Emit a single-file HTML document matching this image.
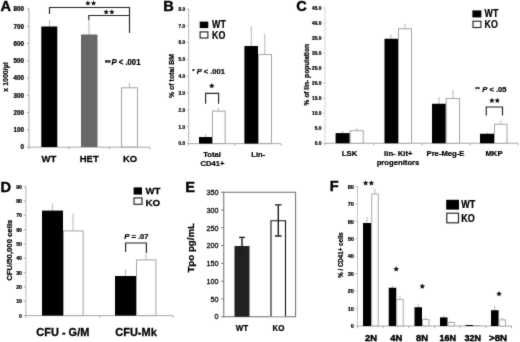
<!DOCTYPE html>
<html><head><meta charset="utf-8"><title>Figure</title>
<style>
html,body{margin:0;padding:0;background:#fff;}
body{width:520px;height:342px;overflow:hidden;font-family:"Liberation Sans",sans-serif;}
svg{display:block;}
svg text{font-family:"Liberation Sans",sans-serif;}
svg text{stroke-linejoin:round;}
</style></head><body>
<svg width="520" height="342" viewBox="0 0 520 342">
<defs><filter id="soft" x="0" y="0" width="100%" height="100%" filterUnits="userSpaceOnUse" color-interpolation-filters="sRGB"><feConvolveMatrix order="3" kernelMatrix="0.018 0.075 0.018 0.075 0.628 0.075 0.018 0.075 0.018" divisor="1" edgeMode="duplicate" preserveAlpha="true"/></filter></defs>
<g filter="url(#soft)">
<rect x="-5" y="-5" width="530" height="352" fill="#fff"/>
<text transform="translate(0.6 10.9)" font-size="14.6" font-weight="bold" text-anchor="start" fill="#000" stroke="#000" stroke-width="0.394">A</text>
<line x1="29" y1="8.5" x2="29" y2="147" stroke="#a8a8a8" stroke-width="1"/>
<line x1="26.8" y1="9.0" x2="29" y2="9.0" stroke="#a8a8a8" stroke-width="1"/>
<text transform="translate(24 11.46)" font-size="6.3" font-weight="bold" text-anchor="end" fill="#000" stroke="#000" stroke-width="0.24">800</text>
<line x1="26.8" y1="26.25" x2="29" y2="26.25" stroke="#a8a8a8" stroke-width="1"/>
<text transform="translate(24 28.71)" font-size="6.3" font-weight="bold" text-anchor="end" fill="#000" stroke="#000" stroke-width="0.24">700</text>
<line x1="26.8" y1="43.5" x2="29" y2="43.5" stroke="#a8a8a8" stroke-width="1"/>
<text transform="translate(24 45.96)" font-size="6.3" font-weight="bold" text-anchor="end" fill="#000" stroke="#000" stroke-width="0.24">600</text>
<line x1="26.8" y1="60.75" x2="29" y2="60.75" stroke="#a8a8a8" stroke-width="1"/>
<text transform="translate(24 63.21)" font-size="6.3" font-weight="bold" text-anchor="end" fill="#000" stroke="#000" stroke-width="0.24">500</text>
<line x1="26.8" y1="78.0" x2="29" y2="78.0" stroke="#a8a8a8" stroke-width="1"/>
<text transform="translate(24 80.46)" font-size="6.3" font-weight="bold" text-anchor="end" fill="#000" stroke="#000" stroke-width="0.24">400</text>
<line x1="26.8" y1="95.25" x2="29" y2="95.25" stroke="#a8a8a8" stroke-width="1"/>
<text transform="translate(24 97.71)" font-size="6.3" font-weight="bold" text-anchor="end" fill="#000" stroke="#000" stroke-width="0.24">300</text>
<line x1="26.8" y1="112.5" x2="29" y2="112.5" stroke="#a8a8a8" stroke-width="1"/>
<text transform="translate(24 114.96)" font-size="6.3" font-weight="bold" text-anchor="end" fill="#000" stroke="#000" stroke-width="0.24">200</text>
<line x1="26.8" y1="129.75" x2="29" y2="129.75" stroke="#a8a8a8" stroke-width="1"/>
<text transform="translate(24 132.21)" font-size="6.3" font-weight="bold" text-anchor="end" fill="#000" stroke="#000" stroke-width="0.24">100</text>
<line x1="26.8" y1="147.0" x2="29" y2="147.0" stroke="#a8a8a8" stroke-width="1"/>
<text transform="translate(24 149.46)" font-size="6.3" font-weight="bold" text-anchor="end" fill="#000" stroke="#000" stroke-width="0.24">0</text>
<line x1="29" y1="147.2" x2="149.7" y2="147.2" stroke="#a8a8a8" stroke-width="1"/>
<line x1="29" y1="147.2" x2="29" y2="149.39999999999998" stroke="#a8a8a8" stroke-width="1"/>
<line x1="69" y1="147.2" x2="69" y2="149.39999999999998" stroke="#a8a8a8" stroke-width="1"/>
<line x1="109.5" y1="147.2" x2="109.5" y2="149.39999999999998" stroke="#a8a8a8" stroke-width="1"/>
<line x1="149.7" y1="147.2" x2="149.7" y2="149.39999999999998" stroke="#a8a8a8" stroke-width="1"/>
<line x1="49.5" y1="20" x2="49.5" y2="27" stroke="#b8b8b8" stroke-width="1"/>
<line x1="89" y1="20" x2="89" y2="35" stroke="#b8b8b8" stroke-width="1"/>
<line x1="129.5" y1="83" x2="129.5" y2="88" stroke="#b8b8b8" stroke-width="1"/>
<rect x="41.3" y="26.5" width="16.0" height="120.5" fill="#000"/>
<rect x="81" y="34.5" width="16.5" height="112.5" fill="#686868"/>
<rect x="121.5" y="87.8" width="16.0" height="59.2" fill="#fff" stroke="#a4a4a4" stroke-width="1"/>
<path d="M49.5,14 V7.5 H129.5 V33" fill="none" stroke="#222" stroke-width="1.15"/>
<path d="M88.8,20 V15.5 H129.5" fill="none" stroke="#222" stroke-width="1.15"/>
<polygon points="87.85,0.50 88.62,2.24 90.51,2.43 89.10,3.71 89.50,5.57 87.85,4.62 86.20,5.57 86.60,3.71 85.19,2.43 87.08,2.24" fill="#111"/>
<polygon points="93.55,0.50 94.32,2.24 96.21,2.43 94.80,3.71 95.20,5.57 93.55,4.62 91.90,5.57 92.30,3.71 90.89,2.43 92.78,2.24" fill="#111"/>
<polygon points="106.15,9.30 106.92,11.04 108.81,11.23 107.40,12.51 107.80,14.37 106.15,13.42 104.50,14.37 104.90,12.51 103.49,11.23 105.38,11.04" fill="#111"/>
<polygon points="111.85,9.30 112.62,11.04 114.51,11.23 113.10,12.51 113.50,14.37 111.85,13.42 110.20,14.37 110.60,12.51 109.19,11.23 111.08,11.04" fill="#111"/>
<text transform="translate(105 64.8) scale(0.9434 1)" font-size="8.21" font-weight="bold" text-anchor="start" fill="#000" stroke="#000" stroke-width="0.24"><tspan font-size="7.6" dy="-0.2">**</tspan><tspan dy="0.2" dx="0.9" font-style="italic">P</tspan> &lt; .001</text>
<text transform="translate(7.6 77) rotate(-90) scale(0.9524 1)" font-size="7.35" font-weight="bold" text-anchor="middle" fill="#000" stroke="#000" stroke-width="0.24">x 1000/&#181;l</text>
<text transform="translate(49 162.4) scale(0.9615 1)" font-size="9.88" font-weight="bold" text-anchor="middle" fill="#000" stroke="#000" stroke-width="0.257">WT</text>
<text transform="translate(89.2 162.4) scale(0.9615 1)" font-size="9.88" font-weight="bold" text-anchor="middle" fill="#000" stroke="#000" stroke-width="0.257">HET</text>
<text transform="translate(130 162.4) scale(0.9615 1)" font-size="9.88" font-weight="bold" text-anchor="middle" fill="#000" stroke="#000" stroke-width="0.257">KO</text>
<text transform="translate(163.3 11)" font-size="14.6" font-weight="bold" text-anchor="start" fill="#000" stroke="#000" stroke-width="0.394">B</text>
<line x1="188.7" y1="8.5" x2="188.7" y2="143.6" stroke="#b4b4b4" stroke-width="1"/>
<line x1="186.5" y1="9.0" x2="188.7" y2="9.0" stroke="#b4b4b4" stroke-width="1"/>
<text transform="translate(185 10.79) scale(0.9524 1)" font-size="4.83" font-weight="bold" text-anchor="end" fill="#000" stroke="#000" stroke-width="0.24">8.0</text>
<line x1="186.5" y1="25.82" x2="188.7" y2="25.82" stroke="#b4b4b4" stroke-width="1"/>
<text transform="translate(185 27.61) scale(0.9524 1)" font-size="4.83" font-weight="bold" text-anchor="end" fill="#000" stroke="#000" stroke-width="0.24">7.0</text>
<line x1="186.5" y1="42.65" x2="188.7" y2="42.65" stroke="#b4b4b4" stroke-width="1"/>
<text transform="translate(185 44.44) scale(0.9524 1)" font-size="4.83" font-weight="bold" text-anchor="end" fill="#000" stroke="#000" stroke-width="0.24">6.0</text>
<line x1="186.5" y1="59.47" x2="188.7" y2="59.47" stroke="#b4b4b4" stroke-width="1"/>
<text transform="translate(185 61.26) scale(0.9524 1)" font-size="4.83" font-weight="bold" text-anchor="end" fill="#000" stroke="#000" stroke-width="0.24">5.0</text>
<line x1="186.5" y1="76.3" x2="188.7" y2="76.3" stroke="#b4b4b4" stroke-width="1"/>
<text transform="translate(185 78.09) scale(0.9524 1)" font-size="4.83" font-weight="bold" text-anchor="end" fill="#000" stroke="#000" stroke-width="0.24">4.0</text>
<line x1="186.5" y1="93.12" x2="188.7" y2="93.12" stroke="#b4b4b4" stroke-width="1"/>
<text transform="translate(185 94.91) scale(0.9524 1)" font-size="4.83" font-weight="bold" text-anchor="end" fill="#000" stroke="#000" stroke-width="0.24">3.0</text>
<line x1="186.5" y1="109.95" x2="188.7" y2="109.95" stroke="#b4b4b4" stroke-width="1"/>
<text transform="translate(185 111.74) scale(0.9524 1)" font-size="4.83" font-weight="bold" text-anchor="end" fill="#000" stroke="#000" stroke-width="0.24">2.0</text>
<line x1="186.5" y1="126.77" x2="188.7" y2="126.77" stroke="#b4b4b4" stroke-width="1"/>
<text transform="translate(185 128.56) scale(0.9524 1)" font-size="4.83" font-weight="bold" text-anchor="end" fill="#000" stroke="#000" stroke-width="0.24">1.0</text>
<line x1="186.5" y1="143.6" x2="188.7" y2="143.6" stroke="#b4b4b4" stroke-width="1"/>
<text transform="translate(185 145.39) scale(0.9524 1)" font-size="4.83" font-weight="bold" text-anchor="end" fill="#000" stroke="#000" stroke-width="0.24">0.0</text>
<line x1="188.7" y1="143.6" x2="281" y2="143.6" stroke="#acacac" stroke-width="1"/>
<line x1="188.7" y1="143.6" x2="188.7" y2="145.79999999999998" stroke="#acacac" stroke-width="1"/>
<line x1="235" y1="143.6" x2="235" y2="145.79999999999998" stroke="#acacac" stroke-width="1"/>
<line x1="281" y1="143.6" x2="281" y2="145.79999999999998" stroke="#acacac" stroke-width="1"/>
<line x1="205.5" y1="134" x2="205.5" y2="138" stroke="#b8b8b8" stroke-width="1"/>
<line x1="218.5" y1="107.6" x2="218.5" y2="111" stroke="#b8b8b8" stroke-width="1"/>
<line x1="251.3" y1="26" x2="251.3" y2="47" stroke="#b8b8b8" stroke-width="1"/>
<line x1="264.8" y1="34" x2="264.8" y2="55" stroke="#b8b8b8" stroke-width="1"/>
<rect x="199" y="137" width="13" height="6.6" fill="#000"/>
<rect x="212.5" y="111.1" width="12.6" height="32.5" fill="#fff" stroke="#a4a4a4" stroke-width="1"/>
<rect x="244.4" y="46" width="13.6" height="97.6" fill="#000"/>
<rect x="258.5" y="54.5" width="13.0" height="89.1" fill="#fff" stroke="#a4a4a4" stroke-width="1"/>
<rect x="199.7" y="21.6" width="8.6" height="6.5" fill="#000"/>
<rect x="200.1" y="31.9" width="7.8" height="6.1" fill="#fff" stroke="#222" stroke-width="1.15"/>
<text transform="translate(212 28.2) scale(0.8065 1)" font-size="11.04" font-weight="bold" text-anchor="start" fill="#000" stroke="#000" stroke-width="0.24">WT</text>
<text transform="translate(212 39.1) scale(0.8065 1)" font-size="11.04" font-weight="bold" text-anchor="start" fill="#000" stroke="#000" stroke-width="0.24">KO</text>
<text transform="translate(192.2 74) scale(0.9524 1)" font-size="7.88" font-weight="bold" text-anchor="start" fill="#000" stroke="#000" stroke-width="0.24"><tspan font-size="6" dy="-0.6">*</tspan><tspan dy="0.6" dx="2.4" font-style="italic">P</tspan> &lt; .001</text>
<polygon points="211.80,82.90 212.63,84.76 214.65,84.97 213.14,86.34 213.56,88.33 211.80,87.31 210.04,88.33 210.46,86.34 208.95,84.97 210.97,84.76" fill="#111"/>
<path d="M205.6,103.8 V93.4 H218.6 V103.8" fill="none" stroke="#222" stroke-width="1.15"/>
<text transform="translate(174.3 76) rotate(-90) scale(0.9524 1)" font-size="7.35" font-weight="bold" text-anchor="middle" fill="#000" stroke="#000" stroke-width="0.24">% of total BM</text>
<text transform="translate(212 157.4) scale(0.9524 1)" font-size="7.98" font-weight="bold" text-anchor="middle" fill="#000" stroke="#000" stroke-width="0.24">Total</text>
<text transform="translate(212.5 166.3) scale(0.9524 1)" font-size="7.98" font-weight="bold" text-anchor="middle" fill="#000" stroke="#000" stroke-width="0.24">CD41+</text>
<text transform="translate(258.2 157.4) scale(0.9524 1)" font-size="7.98" font-weight="bold" text-anchor="middle" fill="#000" stroke="#000" stroke-width="0.24">Lin-</text>
<text transform="translate(296.3 11)" font-size="14.6" font-weight="bold" text-anchor="start" fill="#000" stroke="#000" stroke-width="0.394">C</text>
<line x1="325" y1="7.5" x2="325" y2="143.25" stroke="#d4d4d4" stroke-width="1"/>
<line x1="322.8" y1="8.0" x2="325" y2="8.0" stroke="#d4d4d4" stroke-width="1"/>
<text transform="translate(321.3 9.87) scale(0.9524 1)" font-size="5.04" font-weight="bold" text-anchor="end" fill="#000" stroke="#000" stroke-width="0.24">45.0</text>
<line x1="322.8" y1="23.03" x2="325" y2="23.03" stroke="#d4d4d4" stroke-width="1"/>
<text transform="translate(321.3 24.9) scale(0.9524 1)" font-size="5.04" font-weight="bold" text-anchor="end" fill="#000" stroke="#000" stroke-width="0.24">40.0</text>
<line x1="322.8" y1="38.06" x2="325" y2="38.06" stroke="#d4d4d4" stroke-width="1"/>
<text transform="translate(321.3 39.93) scale(0.9524 1)" font-size="5.04" font-weight="bold" text-anchor="end" fill="#000" stroke="#000" stroke-width="0.24">35.0</text>
<line x1="322.8" y1="53.08" x2="325" y2="53.08" stroke="#d4d4d4" stroke-width="1"/>
<text transform="translate(321.3 54.95) scale(0.9524 1)" font-size="5.04" font-weight="bold" text-anchor="end" fill="#000" stroke="#000" stroke-width="0.24">30.0</text>
<line x1="322.8" y1="68.11" x2="325" y2="68.11" stroke="#d4d4d4" stroke-width="1"/>
<text transform="translate(321.3 69.98) scale(0.9524 1)" font-size="5.04" font-weight="bold" text-anchor="end" fill="#000" stroke="#000" stroke-width="0.24">25.0</text>
<line x1="322.8" y1="83.14" x2="325" y2="83.14" stroke="#d4d4d4" stroke-width="1"/>
<text transform="translate(321.3 85.01) scale(0.9524 1)" font-size="5.04" font-weight="bold" text-anchor="end" fill="#000" stroke="#000" stroke-width="0.24">20.0</text>
<line x1="322.8" y1="98.17" x2="325" y2="98.17" stroke="#d4d4d4" stroke-width="1"/>
<text transform="translate(321.3 100.04) scale(0.9524 1)" font-size="5.04" font-weight="bold" text-anchor="end" fill="#000" stroke="#000" stroke-width="0.24">15.0</text>
<line x1="322.8" y1="113.19" x2="325" y2="113.19" stroke="#d4d4d4" stroke-width="1"/>
<text transform="translate(321.3 115.06) scale(0.9524 1)" font-size="5.04" font-weight="bold" text-anchor="end" fill="#000" stroke="#000" stroke-width="0.24">10.0</text>
<line x1="322.8" y1="128.22" x2="325" y2="128.22" stroke="#d4d4d4" stroke-width="1"/>
<text transform="translate(321.3 130.09) scale(0.9524 1)" font-size="5.04" font-weight="bold" text-anchor="end" fill="#000" stroke="#000" stroke-width="0.24">5.0</text>
<line x1="322.8" y1="143.25" x2="325" y2="143.25" stroke="#d4d4d4" stroke-width="1"/>
<text transform="translate(321.3 145.12) scale(0.9524 1)" font-size="5.04" font-weight="bold" text-anchor="end" fill="#000" stroke="#000" stroke-width="0.24">0.0</text>
<line x1="325" y1="143.25" x2="518" y2="143.25" stroke="#a8a8a8" stroke-width="1"/>
<line x1="325" y1="143.25" x2="325" y2="145.45" stroke="#a8a8a8" stroke-width="1"/>
<line x1="373.75" y1="143.25" x2="373.75" y2="145.45" stroke="#a8a8a8" stroke-width="1"/>
<line x1="422" y1="143.25" x2="422" y2="145.45" stroke="#a8a8a8" stroke-width="1"/>
<line x1="470" y1="143.25" x2="470" y2="145.45" stroke="#a8a8a8" stroke-width="1"/>
<line x1="518" y1="143.25" x2="518" y2="145.45" stroke="#a8a8a8" stroke-width="1"/>
<line x1="342.6" y1="131" x2="342.6" y2="133.5" stroke="#b8b8b8" stroke-width="1"/>
<line x1="356.7" y1="128" x2="356.7" y2="130.5" stroke="#b8b8b8" stroke-width="1"/>
<line x1="391" y1="34.5" x2="391" y2="39" stroke="#b8b8b8" stroke-width="1"/>
<line x1="405" y1="23.75" x2="405" y2="29" stroke="#b8b8b8" stroke-width="1"/>
<line x1="439" y1="97" x2="439" y2="104" stroke="#b8b8b8" stroke-width="1"/>
<line x1="453" y1="90" x2="453" y2="98.5" stroke="#b8b8b8" stroke-width="1"/>
<line x1="487" y1="132.3" x2="487" y2="134" stroke="#b8b8b8" stroke-width="1"/>
<line x1="500.75" y1="120.5" x2="500.75" y2="124" stroke="#b8b8b8" stroke-width="1"/>
<rect x="335.6" y="133.1" width="14.1" height="10.15" fill="#000"/>
<rect x="350.2" y="130.7" width="13.0" height="12.55" fill="#fff" stroke="#a4a4a4" stroke-width="1"/>
<rect x="384.5" y="38.75" width="13.5" height="104.5" fill="#000"/>
<rect x="398.5" y="28.75" width="13.0" height="114.5" fill="#fff" stroke="#a4a4a4" stroke-width="1"/>
<rect x="432" y="103.75" width="13.75" height="39.5" fill="#000"/>
<rect x="446.25" y="98.5" width="13.25" height="44.75" fill="#fff" stroke="#a4a4a4" stroke-width="1"/>
<rect x="480" y="133.75" width="14" height="9.5" fill="#000"/>
<rect x="494.5" y="124.25" width="12.5" height="19.0" fill="#fff" stroke="#a4a4a4" stroke-width="1"/>
<rect x="472.4" y="10.4" width="9.0" height="7.0" fill="#000"/>
<rect x="473" y="21.2" width="7.9" height="6.3" fill="#fff" stroke="#222" stroke-width="1.15"/>
<text transform="translate(484.6 16.5) scale(0.8197 1)" font-size="10.74" font-weight="bold" text-anchor="start" fill="#000" stroke="#000" stroke-width="0.24">WT</text>
<text transform="translate(484.6 27.9) scale(0.8197 1)" font-size="10.74" font-weight="bold" text-anchor="start" fill="#000" stroke="#000" stroke-width="0.24">KO</text>
<text transform="translate(475.3 91.7) scale(0.9524 1)" font-size="7.98" font-weight="bold" text-anchor="start" fill="#000" stroke="#000" stroke-width="0.24"><tspan font-size="6" dy="-0.6">**</tspan><tspan dy="0.6" dx="2.6" font-style="italic">P</tspan> &lt; .05</text>
<polygon points="491.90,97.85 492.69,99.62 494.61,99.82 493.17,101.11 493.58,103.01 491.90,102.04 490.22,103.01 490.63,101.11 489.19,99.82 491.11,99.62" fill="#111"/>
<polygon points="497.30,97.85 498.09,99.62 500.01,99.82 498.57,101.11 498.98,103.01 497.30,102.04 495.62,103.01 496.03,101.11 494.59,99.82 496.51,99.62" fill="#111"/>
<path d="M486.25,115.5 V107 H502.5 V115.5" fill="none" stroke="#222" stroke-width="1.15"/>
<text transform="translate(308.9 74.75) rotate(-90) scale(0.9524 1)" font-size="6.98" font-weight="bold" text-anchor="middle" fill="#000" stroke="#000" stroke-width="0.24">% of lin- population</text>
<text transform="translate(349.5 156.4) scale(0.9524 1)" font-size="8.09" font-weight="bold" text-anchor="middle" fill="#000" stroke="#000" stroke-width="0.24">LSK</text>
<text transform="translate(398.3 156.4) scale(0.9524 1)" font-size="8.09" font-weight="bold" text-anchor="middle" fill="#000" stroke="#000" stroke-width="0.24">lin- Kit+</text>
<text transform="translate(398 164.6) scale(0.9524 1)" font-size="8.09" font-weight="bold" text-anchor="middle" fill="#000" stroke="#000" stroke-width="0.24">progenitors</text>
<text transform="translate(445.5 156.4) scale(0.9524 1)" font-size="8.09" font-weight="bold" text-anchor="middle" fill="#000" stroke="#000" stroke-width="0.24">Pre-Meg-E</text>
<text transform="translate(494 156.4) scale(0.9524 1)" font-size="8.09" font-weight="bold" text-anchor="middle" fill="#000" stroke="#000" stroke-width="0.24">MKP</text>
<text transform="translate(0.6 191.7)" font-size="14.6" font-weight="bold" text-anchor="start" fill="#000" stroke="#000" stroke-width="0.394">D</text>
<line x1="25.9" y1="186.1" x2="25.9" y2="315.6" stroke="#b4b4b4" stroke-width="1"/>
<line x1="23.7" y1="186.6" x2="25.9" y2="186.6" stroke="#b4b4b4" stroke-width="1"/>
<text transform="translate(22 188.63) scale(0.9524 1)" font-size="5.46" font-weight="bold" text-anchor="end" fill="#000" stroke="#000" stroke-width="0.24">90</text>
<line x1="23.7" y1="200.93" x2="25.9" y2="200.93" stroke="#b4b4b4" stroke-width="1"/>
<text transform="translate(22 202.96) scale(0.9524 1)" font-size="5.46" font-weight="bold" text-anchor="end" fill="#000" stroke="#000" stroke-width="0.24">80</text>
<line x1="23.7" y1="215.27" x2="25.9" y2="215.27" stroke="#b4b4b4" stroke-width="1"/>
<text transform="translate(22 217.3) scale(0.9524 1)" font-size="5.46" font-weight="bold" text-anchor="end" fill="#000" stroke="#000" stroke-width="0.24">70</text>
<line x1="23.7" y1="229.6" x2="25.9" y2="229.6" stroke="#b4b4b4" stroke-width="1"/>
<text transform="translate(22 231.63) scale(0.9524 1)" font-size="5.46" font-weight="bold" text-anchor="end" fill="#000" stroke="#000" stroke-width="0.24">60</text>
<line x1="23.7" y1="243.93" x2="25.9" y2="243.93" stroke="#b4b4b4" stroke-width="1"/>
<text transform="translate(22 245.96) scale(0.9524 1)" font-size="5.46" font-weight="bold" text-anchor="end" fill="#000" stroke="#000" stroke-width="0.24">50</text>
<line x1="23.7" y1="258.27" x2="25.9" y2="258.27" stroke="#b4b4b4" stroke-width="1"/>
<text transform="translate(22 260.3) scale(0.9524 1)" font-size="5.46" font-weight="bold" text-anchor="end" fill="#000" stroke="#000" stroke-width="0.24">40</text>
<line x1="23.7" y1="272.6" x2="25.9" y2="272.6" stroke="#b4b4b4" stroke-width="1"/>
<text transform="translate(22 274.63) scale(0.9524 1)" font-size="5.46" font-weight="bold" text-anchor="end" fill="#000" stroke="#000" stroke-width="0.24">30</text>
<line x1="23.7" y1="286.93" x2="25.9" y2="286.93" stroke="#b4b4b4" stroke-width="1"/>
<text transform="translate(22 288.96) scale(0.9524 1)" font-size="5.46" font-weight="bold" text-anchor="end" fill="#000" stroke="#000" stroke-width="0.24">20</text>
<line x1="23.7" y1="301.27" x2="25.9" y2="301.27" stroke="#b4b4b4" stroke-width="1"/>
<text transform="translate(22 303.3) scale(0.9524 1)" font-size="5.46" font-weight="bold" text-anchor="end" fill="#000" stroke="#000" stroke-width="0.24">10</text>
<line x1="23.7" y1="315.6" x2="25.9" y2="315.6" stroke="#b4b4b4" stroke-width="1"/>
<text transform="translate(22 317.63) scale(0.9524 1)" font-size="5.46" font-weight="bold" text-anchor="end" fill="#000" stroke="#000" stroke-width="0.24">0</text>
<line x1="25.9" y1="315.6" x2="173" y2="315.6" stroke="#a8a8a8" stroke-width="1"/>
<line x1="25.9" y1="315.6" x2="25.9" y2="317.8" stroke="#a8a8a8" stroke-width="1"/>
<line x1="99.5" y1="315.6" x2="99.5" y2="317.8" stroke="#a8a8a8" stroke-width="1"/>
<line x1="173" y1="315.6" x2="173" y2="317.8" stroke="#a8a8a8" stroke-width="1"/>
<line x1="52.4" y1="203.4" x2="52.4" y2="211" stroke="#b8b8b8" stroke-width="1"/>
<line x1="73" y1="213.4" x2="73" y2="231" stroke="#b8b8b8" stroke-width="1"/>
<line x1="125.4" y1="269" x2="125.4" y2="277" stroke="#b8b8b8" stroke-width="1"/>
<line x1="146" y1="254" x2="146" y2="260" stroke="#b8b8b8" stroke-width="1"/>
<rect x="42" y="210.6" width="21" height="105.0" fill="#000"/>
<rect x="63.5" y="230.9" width="19.6" height="84.7" fill="#fff" stroke="#a4a4a4" stroke-width="1"/>
<rect x="115" y="276" width="21" height="39.6" fill="#000"/>
<rect x="136.5" y="259.9" width="19.4" height="55.7" fill="#fff" stroke="#a4a4a4" stroke-width="1"/>
<rect x="133.6" y="187.4" width="8.4" height="7.2" fill="#000"/>
<rect x="134" y="197.9" width="8" height="6.4" fill="#fff" stroke="#222" stroke-width="1.15"/>
<text transform="translate(145.5 193.8)" font-size="9.6" font-weight="bold" text-anchor="start" fill="#000" stroke="#000" stroke-width="0.259">WT</text>
<text transform="translate(145.5 205.8)" font-size="9.8" font-weight="bold" text-anchor="start" fill="#000" stroke="#000" stroke-width="0.265">KO</text>
<text transform="translate(136.4 239.4) scale(0.9524 1)" font-size="7.98" font-weight="bold" text-anchor="middle" fill="#000" stroke="#000" stroke-width="0.24"><tspan font-style="italic">P</tspan> = .07</text>
<path d="M125.6,252 V243 H146.4 V253" fill="none" stroke="#222" stroke-width="1.15"/>
<text transform="translate(11.5 250.2) rotate(-90)" font-size="7.75" font-weight="bold" text-anchor="middle" fill="#000" stroke="#000" stroke-width="0.24">CFU/50,000 cells</text>
<text transform="translate(62.8 335.6) scale(0.9524 1)" font-size="11.55" font-weight="bold" text-anchor="middle" fill="#000" stroke="#000" stroke-width="0.297">CFU - G/M</text>
<text transform="translate(136 335.6) scale(0.9524 1)" font-size="11.55" font-weight="bold" text-anchor="middle" fill="#000" stroke="#000" stroke-width="0.297">CFU-Mk</text>
<text transform="translate(185.2 191.8)" font-size="14.6" font-weight="bold" text-anchor="start" fill="#000" stroke="#000" stroke-width="0.394">E</text>
<rect x="223.75" y="192.25" width="71.85" height="124.5" fill="none" stroke="#6c6c6c" stroke-width="1"/>
<line x1="221.3" y1="192.25" x2="223.75" y2="192.25" stroke="#6c6c6c" stroke-width="1"/>
<text transform="translate(218.6 194.95) scale(0.9709 1)" font-size="7.42" font-weight="normal" text-anchor="end" fill="#000" stroke="#000" stroke-width="0.26">350</text>
<line x1="221.3" y1="210.04" x2="223.75" y2="210.04" stroke="#6c6c6c" stroke-width="1"/>
<text transform="translate(218.6 212.74) scale(0.9709 1)" font-size="7.42" font-weight="normal" text-anchor="end" fill="#000" stroke="#000" stroke-width="0.26">300</text>
<line x1="221.3" y1="227.82" x2="223.75" y2="227.82" stroke="#6c6c6c" stroke-width="1"/>
<text transform="translate(218.6 230.52) scale(0.9709 1)" font-size="7.42" font-weight="normal" text-anchor="end" fill="#000" stroke="#000" stroke-width="0.26">250</text>
<line x1="221.3" y1="245.61" x2="223.75" y2="245.61" stroke="#6c6c6c" stroke-width="1"/>
<text transform="translate(218.6 248.31) scale(0.9709 1)" font-size="7.42" font-weight="normal" text-anchor="end" fill="#000" stroke="#000" stroke-width="0.26">200</text>
<line x1="221.3" y1="263.39" x2="223.75" y2="263.39" stroke="#6c6c6c" stroke-width="1"/>
<text transform="translate(218.6 266.09) scale(0.9709 1)" font-size="7.42" font-weight="normal" text-anchor="end" fill="#000" stroke="#000" stroke-width="0.26">150</text>
<line x1="221.3" y1="281.18" x2="223.75" y2="281.18" stroke="#6c6c6c" stroke-width="1"/>
<text transform="translate(218.6 283.88) scale(0.9709 1)" font-size="7.42" font-weight="normal" text-anchor="end" fill="#000" stroke="#000" stroke-width="0.26">100</text>
<line x1="221.3" y1="298.97" x2="223.75" y2="298.97" stroke="#6c6c6c" stroke-width="1"/>
<text transform="translate(218.6 301.67) scale(0.9709 1)" font-size="7.42" font-weight="normal" text-anchor="end" fill="#000" stroke="#000" stroke-width="0.26">50</text>
<line x1="221.3" y1="316.75" x2="223.75" y2="316.75" stroke="#6c6c6c" stroke-width="1"/>
<text transform="translate(218.6 319.45) scale(0.9709 1)" font-size="7.42" font-weight="normal" text-anchor="end" fill="#000" stroke="#000" stroke-width="0.26">0</text>
<rect x="234.5" y="246" width="15.0" height="70.75" fill="#222"/>
<rect x="271" y="220.75" width="14.5" height="95.55" fill="#fff"/>
<path d="M271,316.3 V220.75 H285.5 V316.3" fill="none" stroke="#111" stroke-width="1.1"/>
<path d="M239,237.4 H245 M242,237.4 V254.75 M239,254.75 H245" fill="none" stroke="#1a1a1a" stroke-width="1.4"/>
<path d="M275,204.9 H281.6 M278.3,204.9 V236 M275,236 H281.6" fill="none" stroke="#1a1a1a" stroke-width="1.4"/>
<text transform="translate(193.5 247.8) rotate(-90)" font-size="9.7" font-weight="bold" text-anchor="middle" fill="#000" stroke="#000" stroke-width="0.262">Tpo pg/mL</text>
<text transform="translate(242 331) scale(0.9524 1)" font-size="8.4" font-weight="bold" text-anchor="middle" fill="#000" stroke="#000" stroke-width="0.24">WT</text>
<text transform="translate(278.5 331) scale(0.9524 1)" font-size="8.4" font-weight="bold" text-anchor="middle" fill="#000" stroke="#000" stroke-width="0.24">KO</text>
<text transform="translate(329.8 191.3)" font-size="14.6" font-weight="bold" text-anchor="start" fill="#000" stroke="#000" stroke-width="0.394">F</text>
<line x1="357.5" y1="186.0" x2="357.5" y2="326" stroke="#c4c4c4" stroke-width="1"/>
<line x1="355.3" y1="186.5" x2="357.5" y2="186.5" stroke="#c4c4c4" stroke-width="1"/>
<text transform="translate(353.9 188.68) scale(0.9524 1)" font-size="5.88" font-weight="bold" text-anchor="end" fill="#000" stroke="#000" stroke-width="0.24">80</text>
<line x1="355.3" y1="203.94" x2="357.5" y2="203.94" stroke="#c4c4c4" stroke-width="1"/>
<text transform="translate(353.9 206.12) scale(0.9524 1)" font-size="5.88" font-weight="bold" text-anchor="end" fill="#000" stroke="#000" stroke-width="0.24">70</text>
<line x1="355.3" y1="221.38" x2="357.5" y2="221.38" stroke="#c4c4c4" stroke-width="1"/>
<text transform="translate(353.9 223.56) scale(0.9524 1)" font-size="5.88" font-weight="bold" text-anchor="end" fill="#000" stroke="#000" stroke-width="0.24">60</text>
<line x1="355.3" y1="238.81" x2="357.5" y2="238.81" stroke="#c4c4c4" stroke-width="1"/>
<text transform="translate(353.9 240.99) scale(0.9524 1)" font-size="5.88" font-weight="bold" text-anchor="end" fill="#000" stroke="#000" stroke-width="0.24">50</text>
<line x1="355.3" y1="256.25" x2="357.5" y2="256.25" stroke="#c4c4c4" stroke-width="1"/>
<text transform="translate(353.9 258.43) scale(0.9524 1)" font-size="5.88" font-weight="bold" text-anchor="end" fill="#000" stroke="#000" stroke-width="0.24">40</text>
<line x1="355.3" y1="273.69" x2="357.5" y2="273.69" stroke="#c4c4c4" stroke-width="1"/>
<text transform="translate(353.9 275.87) scale(0.9524 1)" font-size="5.88" font-weight="bold" text-anchor="end" fill="#000" stroke="#000" stroke-width="0.24">30</text>
<line x1="355.3" y1="291.12" x2="357.5" y2="291.12" stroke="#c4c4c4" stroke-width="1"/>
<text transform="translate(353.9 293.3) scale(0.9524 1)" font-size="5.88" font-weight="bold" text-anchor="end" fill="#000" stroke="#000" stroke-width="0.24">20</text>
<line x1="355.3" y1="308.56" x2="357.5" y2="308.56" stroke="#c4c4c4" stroke-width="1"/>
<text transform="translate(353.9 310.74) scale(0.9524 1)" font-size="5.88" font-weight="bold" text-anchor="end" fill="#000" stroke="#000" stroke-width="0.24">10</text>
<line x1="355.3" y1="326.0" x2="357.5" y2="326.0" stroke="#c4c4c4" stroke-width="1"/>
<text transform="translate(353.9 328.18) scale(0.9524 1)" font-size="5.88" font-weight="bold" text-anchor="end" fill="#000" stroke="#000" stroke-width="0.24">0</text>
<line x1="357.5" y1="326" x2="511.5" y2="326" stroke="#a8a8a8" stroke-width="1"/>
<line x1="357.5" y1="326" x2="357.5" y2="328.2" stroke="#a8a8a8" stroke-width="1"/>
<line x1="383.17" y1="326" x2="383.17" y2="328.2" stroke="#a8a8a8" stroke-width="1"/>
<line x1="408.84" y1="326" x2="408.84" y2="328.2" stroke="#a8a8a8" stroke-width="1"/>
<line x1="434.51" y1="326" x2="434.51" y2="328.2" stroke="#a8a8a8" stroke-width="1"/>
<line x1="460.18" y1="326" x2="460.18" y2="328.2" stroke="#a8a8a8" stroke-width="1"/>
<line x1="485.85" y1="326" x2="485.85" y2="328.2" stroke="#a8a8a8" stroke-width="1"/>
<line x1="511.52" y1="326" x2="511.52" y2="328.2" stroke="#a8a8a8" stroke-width="1"/>
<line x1="367" y1="217" x2="367" y2="223.5" stroke="#b8b8b8" stroke-width="1"/>
<line x1="375" y1="189" x2="375" y2="194" stroke="#b8b8b8" stroke-width="1"/>
<line x1="392.5" y1="285.5" x2="392.5" y2="288" stroke="#b8b8b8" stroke-width="1"/>
<line x1="400" y1="296" x2="400" y2="299.5" stroke="#b8b8b8" stroke-width="1"/>
<line x1="418.25" y1="304" x2="418.25" y2="307.5" stroke="#b8b8b8" stroke-width="1"/>
<line x1="425.75" y1="316.75" x2="425.75" y2="319.5" stroke="#b8b8b8" stroke-width="1"/>
<line x1="443.75" y1="315.5" x2="443.75" y2="317.6" stroke="#b8b8b8" stroke-width="1"/>
<line x1="451" y1="321" x2="451" y2="322.3" stroke="#b8b8b8" stroke-width="1"/>
<line x1="494.8" y1="305.75" x2="494.8" y2="310.5" stroke="#b8b8b8" stroke-width="1"/>
<line x1="502.3" y1="317.5" x2="502.3" y2="319.8" stroke="#b8b8b8" stroke-width="1"/>
<rect x="363" y="223" width="8.25" height="103" fill="#000"/>
<rect x="371.75" y="194.0" width="6.5" height="132.0" fill="#fff" stroke="#ababab" stroke-width="1"/>
<rect x="388.75" y="287.75" width="7.5" height="38.25" fill="#000"/>
<rect x="396.75" y="299.5" width="6.5" height="26.5" fill="#fff" stroke="#ababab" stroke-width="1"/>
<rect x="414.5" y="307.25" width="7.5" height="18.75" fill="#000"/>
<rect x="422.5" y="319.5" width="6.5" height="6.5" fill="#fff" stroke="#ababab" stroke-width="1"/>
<rect x="440" y="317.4" width="7.5" height="8.6" fill="#000"/>
<rect x="448.0" y="322.5" width="6.5" height="3.5" fill="#fff" stroke="#ababab" stroke-width="1"/>
<rect x="465.5" y="325" width="7.5" height="1" fill="#000"/>
<line x1="473" y1="325.5" x2="480.5" y2="325.5" stroke="#aaa" stroke-width="1"/>
<rect x="491" y="310.2" width="7.6" height="15.8" fill="#000"/>
<rect x="499.1" y="319.9" width="6.4" height="6.1" fill="#fff" stroke="#ababab" stroke-width="1"/>
<polygon points="365.65,180.20 366.45,182.00 368.41,182.20 366.95,183.52 367.35,185.45 365.65,184.46 363.95,185.45 364.35,183.52 362.89,182.20 364.85,182.00" fill="#111"/>
<polygon points="371.35,180.20 372.15,182.00 374.11,182.20 372.65,183.52 373.05,185.45 371.35,184.46 369.65,185.45 370.05,183.52 368.59,182.20 370.55,182.00" fill="#111"/>
<polygon points="396.20,266.10 397.03,267.96 399.05,268.17 397.54,269.54 397.96,271.53 396.20,270.51 394.44,271.53 394.86,269.54 393.35,268.17 395.37,267.96" fill="#111"/>
<polygon points="422.30,283.40 423.13,285.26 425.15,285.47 423.64,286.84 424.06,288.83 422.30,287.81 420.54,288.83 420.96,286.84 419.45,285.47 421.47,285.26" fill="#111"/>
<polygon points="499.00,290.90 499.83,292.76 501.85,292.97 500.34,294.34 500.76,296.33 499.00,295.31 497.24,296.33 497.66,294.34 496.15,292.97 498.17,292.76" fill="#111"/>
<rect x="446.2" y="199.8" width="12.8" height="9.8" fill="#000"/>
<rect x="446.8" y="213.2" width="11.7" height="9.6" fill="#fff" stroke="#222" stroke-width="1.15"/>
<text transform="translate(461.2 207.5) scale(0.8772 1)" font-size="10.26" font-weight="bold" text-anchor="start" fill="#000" stroke="#000" stroke-width="0.243">WT</text>
<text transform="translate(461.2 221.5) scale(0.8772 1)" font-size="10.26" font-weight="bold" text-anchor="start" fill="#000" stroke="#000" stroke-width="0.243">KO</text>
<text transform="translate(343.3 255) rotate(-90) scale(0.9524 1)" font-size="6.51" font-weight="bold" text-anchor="middle" fill="#000" stroke="#000" stroke-width="0.24">% / CD41+ cells</text>
<text x="365.0" y="340.7" font-size="8.7" font-weight="bold" text-anchor="start" fill="#000" textLength="12" lengthAdjust="spacingAndGlyphs" stroke="#000" stroke-width="0.42">2N</text>
<text x="390.3" y="340.7" font-size="8.7" font-weight="bold" text-anchor="start" fill="#000" textLength="12" lengthAdjust="spacingAndGlyphs" stroke="#000" stroke-width="0.42">4N</text>
<text x="416.0" y="340.7" font-size="8.7" font-weight="bold" text-anchor="start" fill="#000" textLength="12" lengthAdjust="spacingAndGlyphs" stroke="#000" stroke-width="0.42">8N</text>
<text x="439.4" y="340.7" font-size="8.7" font-weight="bold" text-anchor="start" fill="#000" textLength="16.6" lengthAdjust="spacingAndGlyphs" stroke="#000" stroke-width="0.42">16N</text>
<text x="464.4" y="340.7" font-size="8.7" font-weight="bold" text-anchor="start" fill="#000" textLength="16.6" lengthAdjust="spacingAndGlyphs" stroke="#000" stroke-width="0.42">32N</text>
<text x="489.0" y="340.7" font-size="8.7" font-weight="bold" text-anchor="start" fill="#000" textLength="18" lengthAdjust="spacingAndGlyphs" stroke="#000" stroke-width="0.42">&gt;8N</text>
</g>
</svg>
</body></html>
